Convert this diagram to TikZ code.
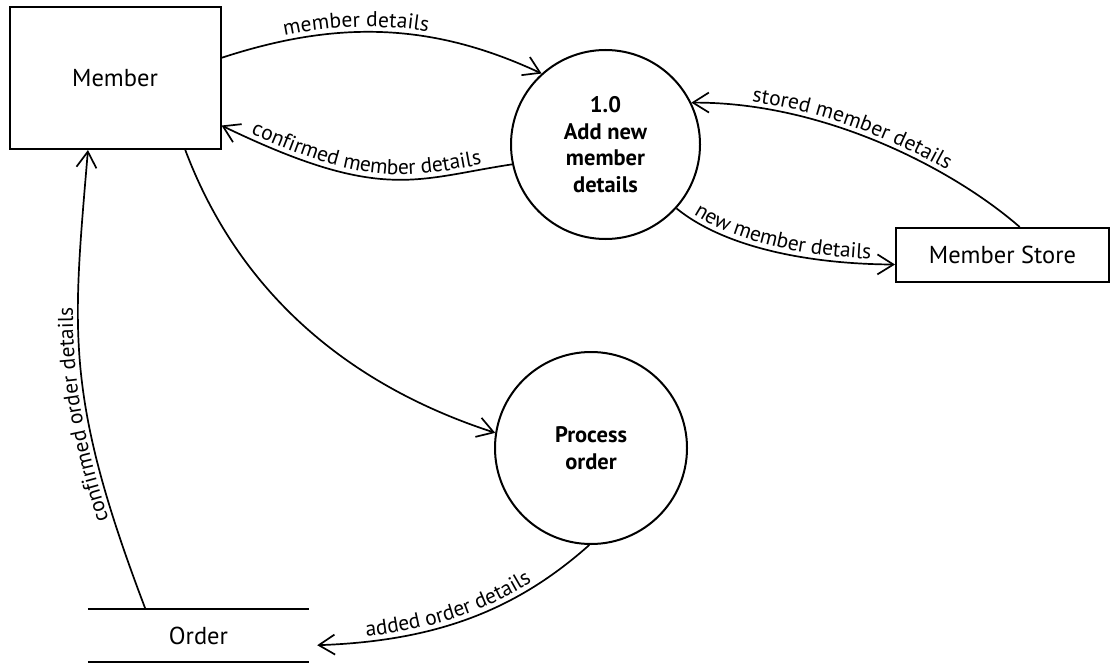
\documentclass[tikz,border=0pt]{standalone}
\usepackage{fontspec}
\setmainfont{PT Sans}
\usetikzlibrary{arrows.meta,calc,decorations.text}
\newcommand\lblfont{\fontsize{21.5}{25}\selectfont}
\begin{document}
\begin{tikzpicture}[x=1pt,y=-1pt,
  shapeline/.style={line width=2pt},
  entity/.style={draw, shapeline, rectangle, inner sep=0pt, font=\fontsize{24.5}{28}\selectfont},
  proc/.style={draw, shapeline, circle, inner sep=0pt, align=center, font=\fontsize{22.5}{26.5}\selectfont\bfseries},
  flow/.style={line width=1.7pt, -{Straight Barb[length=16pt,width=20pt]}},
  revflow/.style={line width=1.7pt, {Straight Barb[length=16pt,width=20pt]}-},
  lbl/.style 2 args={postaction={decorate, decoration={text along path, text={|\lblfont|#2}, text align={left indent=#1}, raise=5pt}}},
]
\useasboundingbox (0,0) rectangle (1115,663);

\node[entity, minimum width=211pt, minimum height=142pt] (member) at (115,78) {Member};
\node[proc, minimum size=189pt] (c1) at (605.5,144.5) {1.0\\Add new\\member\\details};
\node[proc, minimum size=192pt] (c2) at (591,448) {Process\\order};
\node[entity, minimum width=213pt, minimum height=54pt] (store) at (1002.5,255) {Member Store};
\node[inner sep=0pt, minimum width=221pt, minimum height=53pt, font=\fontsize{24.5}{28}\selectfont] (order) at (198.5,635.5) {Order};
\draw[shapeline] (order.north west) -- (order.north east);
\draw[shapeline] (order.south west) -- (order.south east);

% member details
\draw[flow, lbl={66pt}{member details}] ($(member.north east)!0.36!(member.south east)$) .. controls (334,21) and (429,21) .. (c1.132);
% confirmed member details
\draw[revflow, lbl={30pt}{confirmed member details}] ($(member.north east)!0.83!(member.south east)$) .. controls (382,203) and (415,179) .. (c1.192);
% stored member details
\draw[revflow, lbl={60pt}{stored member details}] (c1.26) .. controls (823,102) and (952,168) .. ($(store.north west)!0.58!(store.north east)$);
% new member details
\draw[flow, lbl={18pt}{new member details}] (c1.-42) .. controls (724,247) and (807,264) .. ($(store.north west)!0.67!(store.south west)$);
% member to process order
\draw[flow] ($(member.south west)!0.83!(member.south east)$) .. controls (238,290) and (345,384) .. (c2.171);
% confirmed order details
\draw[flow, lbl={96pt}{confirmed order details}] ($(order.north west)!0.26!(order.north east)$) .. controls (63.6,394) and (72.9,331) .. ($(member.south west)!0.373!(member.south east)$);
% added order details
\draw[revflow, lbl={50pt}{added order details}] ($(order.south east)+(8,-17)$) .. controls (437,641) and (516.5,609.8) .. (c2.-91);
\end{tikzpicture}
\end{document}
